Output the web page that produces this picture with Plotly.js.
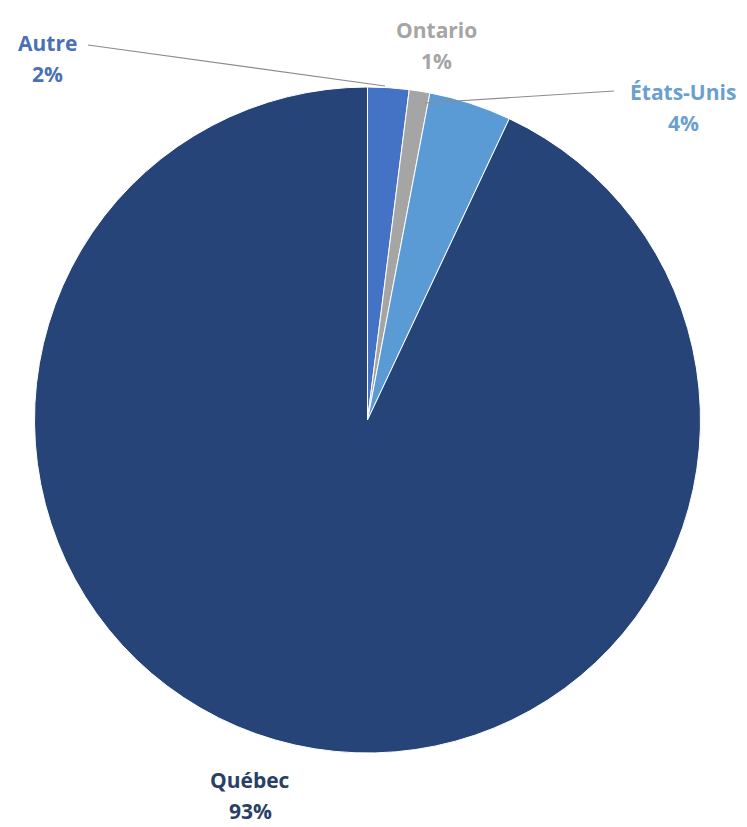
<!DOCTYPE html>
<html>
<head>
<meta charset="utf-8">
<script src="https://cdn.plot.ly/plotly-3.0.1.min.js"></script>
<style>html,body{margin:0;padding:0;background:#fff;}#chart{width:747px;height:827px;}</style>
</head>
<body>
<div id="chart"></div>
<script>
const categories = ["Autre", "Ontario", "États-Unis", "Québec"];
const values = [2, 1, 4, 93];
const sliceColors = ["#4472C4", "#A5A5A5", "#5B9BD5", "#264478"];
const labelColors = ["#4a70b5", "#a5a5a5", "#6a9fd0", "#2a3f66"];

// label anchor positions in pixels (layout, not data)
const labelPos = [[48, 43], [437, 30], [683, 92], [250, 780]];

const W = 747, H = 827;
const total = values.reduce((a, b) => a + b, 0);
const px = x => x / W, py = y => 1 - y / H;
const FONT = "'Open Sans', Lato, sans-serif";

const annotations = [];
categories.forEach((c, i) => {
  const [x, y] = labelPos[i];
  const pct = Math.round(values[i] / total * 100) + "%";
  annotations.push({xref: "paper", yref: "paper", x: px(x), y: py(y), text: "<b>" + c + "</b>",
    showarrow: false, xanchor: "center", yanchor: "middle",
    font: {family: FONT, size: 21, color: labelColors[i]}});
  annotations.push({xref: "paper", yref: "paper", x: px(x), y: py(y + 31), text: "<b>" + pct + "</b>",
    showarrow: false, xanchor: "center", yanchor: "middle",
    font: {family: FONT, size: 21, color: labelColors[i]}});
});

const shapes = [
  {type: "line", xref: "paper", yref: "paper", x0: px(88), y0: py(45), x1: px(385), y1: py(86),
   line: {color: "#8c8c8c", width: 1.2}},
  {type: "line", xref: "paper", yref: "paper", x0: px(425), y0: py(103), x1: px(614), y1: py(91),
   line: {color: "#8c8c8c", width: 1.2}}
];

const cx = 367.5, cy = 420, r = 333;
const data = [{
  type: "pie",
  labels: categories,
  values: values,
  sort: false,
  direction: "clockwise",
  rotation: 0,
  textinfo: "none",
  hoverinfo: "label+percent",
  marker: {colors: sliceColors, line: {color: "#ffffff", width: 1}},
  domain: {x: [px(cx - r), px(cx + r)], y: [py(cy + r), py(cy - r)]}
}];

const layout = {
  width: W, height: H,
  margin: {l: 0, r: 0, t: 0, b: 0},
  paper_bgcolor: "#ffffff",
  showlegend: false,
  annotations: annotations,
  shapes: shapes
};

Plotly.newPlot("chart", data, layout, {displayModeBar: false, staticPlot: true});
</script>
</body>
</html>
